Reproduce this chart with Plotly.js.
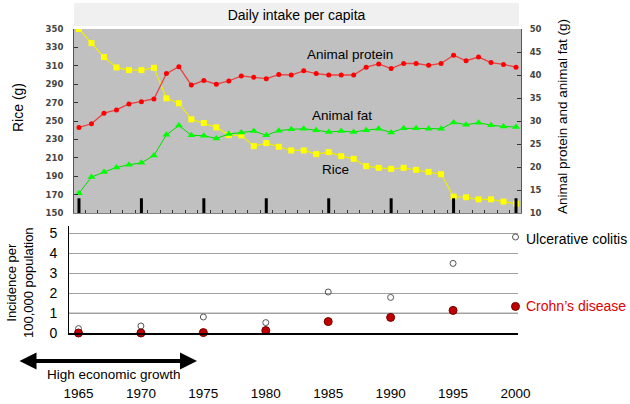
<!DOCTYPE html>
<html>
<head>
<meta charset="utf-8">
<script src="https://cdn.plot.ly/plotly-3.0.1.min.js"></script>
<style>html,body{margin:0;padding:0;background:#fff;}#chart{width:630px;height:404px;}</style>
</head>
<body>
<div id="chart"></div>
<script>
// ---- data ----
const years = [1965,1966,1967,1968,1969,1970,1971,1972,1973,1974,1975,1976,1977,1978,1979,1980,1981,1982,1983,1984,1985,1986,1987,1988,1989,1990,1991,1992,1993,1994,1995,1996,1997,1998,1999,2000];
const rice = [350,334.7,319.5,308.2,305.3,305.3,307.8,274.7,269.3,251.8,247.8,243.1,234.7,234.4,222.7,226,222,218,218,214,216.2,211.8,208.9,200.9,199.1,198,199.1,196.9,194.7,192.2,167.8,167.1,164.9,164.9,162.4,160.2];
const animalProtein = [28.6,29.4,31.7,32.4,33.7,34.2,34.8,40.3,41.8,37.8,38.8,38.0,38.7,39.8,39.5,39.2,40.1,40.0,40.9,40.3,40.0,40.0,40.0,41.7,42.4,41.4,42.5,42.5,42.1,42.5,44.3,43.1,43.9,42.7,42.3,41.7];
const animalFat = [14.3,17.8,18.9,19.9,20.5,20.9,22.5,27.0,29.0,26.9,26.8,26.2,27.2,27.5,27.8,26.9,27.9,28.2,28.3,28.0,27.6,27.8,27.6,28.0,28.3,27.5,28.4,28.4,28.3,28.3,29.7,29.2,29.6,29.1,28.8,28.7];

const incidenceYears = [1965,1970,1975,1980,1985,1990,1995,2000];
const ulcerativeColitis = [0.22,0.35,0.8,0.52,2.05,1.78,3.48,4.8];
const crohnsDisease = [0,0,0.02,0.12,0.57,0.78,1.13,1.33];

const majorTickYears = [1965,1970,1975,1980,1985,1990,1995,2000];
const riceTicks = [150,170,190,210,230,250,270,290,310,330,350];
const rightTicks = [10,15,20,25,30,35,40,45,50];
const incidenceTicks = [0,1,2,3,4,5];

// ---- layout helpers (pixel -> paper) ----
const W = 630, H = 404;
const px = x => x / W;
const py = y => 1 - y / H;
const FONT = 'Liberation Sans, Arial, sans-serif';
const tickFont = {family: 'DejaVu Sans, sans-serif', size: 8.5, color: '#444', weight: 'bold'};

const traces = [
  {x: years, y: rice, xaxis: 'x', yaxis: 'y', type: 'scatter', mode: 'lines+markers',
   line: {color: '#eeee00', width: 1.2}, marker: {symbol: 'square', size: 6, color: '#ffff00'}, name: 'Rice'},
  {x: years, y: animalFat, xaxis: 'x', yaxis: 'y3', type: 'scatter', mode: 'lines+markers',
   line: {color: '#00dd00', width: 1}, marker: {symbol: 'triangle-up', size: 7, color: '#00ff00'}, name: 'Animal fat'},
  {x: years, y: animalProtein, xaxis: 'x', yaxis: 'y3', type: 'scatter', mode: 'lines+markers',
   line: {color: '#e84040', width: 1.3}, marker: {symbol: 'circle', size: 5, color: '#ff0000'}, name: 'Animal protein'},
  {x: incidenceYears, y: ulcerativeColitis, xaxis: 'x2', yaxis: 'y2', type: 'scatter', mode: 'markers', cliponaxis: false,
   marker: {symbol: 'circle-open', size: 6, color: '#555', line: {width: 1}}, name: 'Ulcerative colitis'},
  {x: incidenceYears, y: crohnsDisease, xaxis: 'x2', yaxis: 'y2', type: 'scatter', mode: 'markers', cliponaxis: false,
   marker: {symbol: 'circle', size: 8, color: '#c00000', line: {color: '#700000', width: 1}}, name: "Crohn’s disease"}
];

const shapes = [
  {type: 'rect', xref: 'paper', yref: 'paper', x0: px(74), x1: px(519), y0: py(26), y1: py(3),
   fillcolor: '#f0f0f0', line: {width: 0}, layer: 'below'},
  {type: 'rect', xref: 'x domain', yref: 'y domain', x0: 0, x1: 1, y0: 0, y1: 1,
   fillcolor: '#c0c0c0', line: {width: 0}, layer: 'below'},
  {type: 'line', xref: 'x2 domain', yref: 'y2', x0: 0, x1: 1, y0: 1, y1: 1,
   line: {color: '#d4d4d4', width: 2}, layer: 'below'}
];
majorTickYears.forEach(yr => shapes.push({type: 'line', xref: 'x', yref: 'y', x0: yr, x1: yr, y0: 150, y1: 166,
  line: {color: '#000', width: 3}}));

function label(text, x, y, opts) {
  return Object.assign({text: text, xref: 'paper', yref: 'paper', x: px(x), y: py(y),
    xanchor: 'center', yanchor: 'middle', showarrow: false,
    font: {family: FONT, size: 13.5, color: '#000'}}, opts || {});
}

const annotations = [
  label('Rice (g)', 18, 108, {textangle: -90, font: {family: FONT, size: 14, color: '#000'}}),
  label('Animal protein and animal fat (g)', 562, 117, {textangle: -90}),
  label('Animal protein', 349.5, 54),
  label('Animal fat', 341.5, 115),
  label('Rice', 335.5, 169.5),
  label('Incidence per<br>100,000 population', 20, 283, {textangle: -90, font: {family: FONT, size: 13, color: '#000'}}),
  label('Ulcerative colitis', 524, 239, {xanchor: 'left', font: {family: FONT, size: 14, color: '#000'}}),
  label('Crohn’s disease', 524, 306, {xanchor: 'left', font: {family: FONT, size: 14, color: '#e00000'}}),
  label('High economic growth', 114, 374, {font: {family: FONT, size: 13.5, color: '#000'}}),
  {text: '', xref: 'paper', yref: 'paper', x: px(197), y: py(361), ax: -179, ay: 0, showarrow: true,
   arrowside: 'end+start', arrowhead: 2, arrowsize: 0.85, arrowwidth: 4, arrowcolor: '#000', standoff: 0, startstandoff: 0}
];

const layout = {
  width: W, height: H,
  margin: {l: 0, r: 0, t: 0, b: 0},
  paper_bgcolor: '#fff', plot_bgcolor: 'rgba(0,0,0,0)',
  showlegend: false,
  font: {family: FONT, color: '#000'},
  title: {text: 'Daily intake per capita', x: px(296.5), xanchor: 'center', y: py(15), yanchor: 'middle', yref: 'paper',
          font: {family: FONT, size: 14, color: '#000'}},
  xaxis: {domain: [px(74), px(521)], range: [1964.6, 2000.4], anchor: 'y',
          tickmode: 'linear', tick0: 1964.5, dtick: 1, ticks: 'inside', ticklen: 3, tickcolor: '#333', tickwidth: 1,
          showticklabels: false, showgrid: false, zeroline: false, showline: true, linecolor: '#808080', linewidth: 1},
  yaxis: {domain: [py(213), py(29)], range: [150, 350], anchor: 'x',
          tickmode: 'array', tickvals: riceTicks, ticks: 'inside', ticklen: 4, tickcolor: '#333',
          tickfont: tickFont, ticklabelstandoff: 8, showgrid: false, zeroline: false,
          showline: true, linecolor: '#555', linewidth: 1},
  yaxis3: {overlaying: 'y', side: 'right', anchor: 'x', range: [10, 50],
          tickmode: 'array', tickvals: rightTicks, ticks: 'inside', ticklen: 4, tickcolor: '#333',
          tickfont: tickFont, ticklabelstandoff: 6, showgrid: false, zeroline: false,
          showline: true, linecolor: '#555', linewidth: 1},
  xaxis2: {domain: [px(69), px(518)], range: [1964.24, 2000.2], anchor: 'y2',
          tickmode: 'array', tickvals: majorTickYears, ticks: '', showgrid: false, zeroline: false,
          showline: true, linecolor: '#000', linewidth: 1.5,
          tickfont: {family: FONT, size: 13.5, color: '#000'}, ticklabelstandoff: 47},
  yaxis2: {domain: [py(333), py(226)], range: [0, 5.35], anchor: 'x2',
          tickmode: 'array', tickvals: incidenceTicks, ticks: '', showgrid: true, gridcolor: '#a0a0a0', gridwidth: 1,
          zeroline: false, showline: true, linecolor: '#000', linewidth: 1,
          tickfont: {family: FONT, size: 14, color: '#000'}, ticklabelstandoff: 8},
  shapes: shapes,
  annotations: annotations
};

Plotly.newPlot('chart', traces, layout, {displayModeBar: false, staticPlot: true});
</script>
</body>
</html>
